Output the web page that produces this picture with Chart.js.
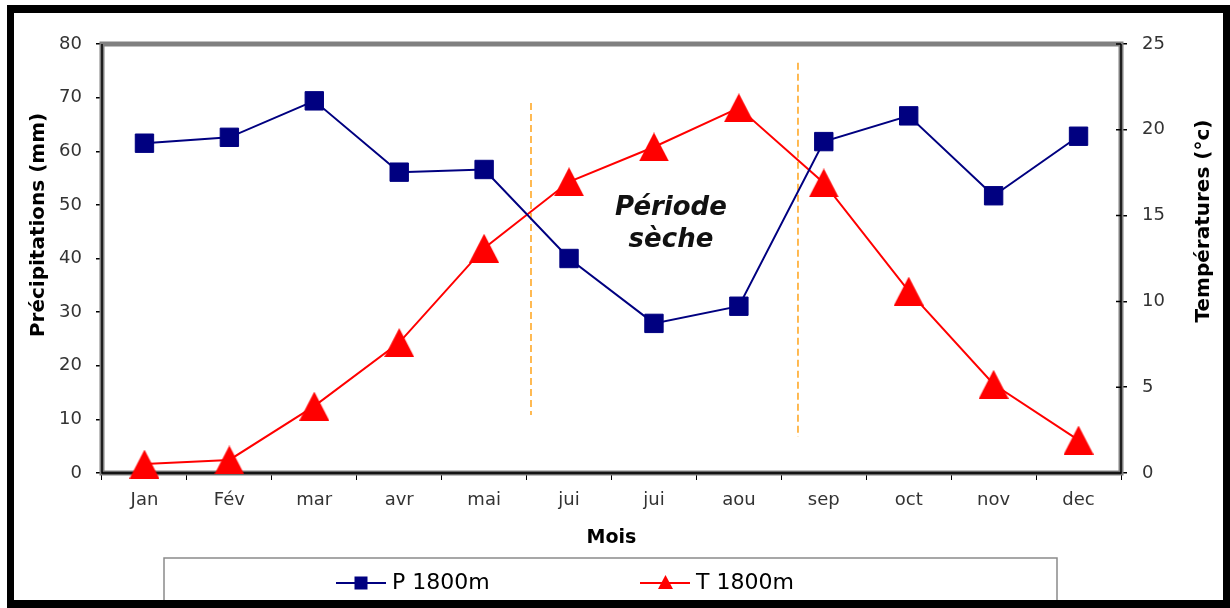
<!DOCTYPE html>
<html>
<head>
<meta charset="utf-8">
<script src="https://cdn.jsdelivr.net/npm/chart.js@4.4.0/dist/chart.umd.min.js"></script>
<style>
  html, body { margin: 0; padding: 0; background: #fff; }
  canvas { display: block; }
</style>
</head>
<body>
<canvas id="c" width="1230" height="608"></canvas>
<script>
// Monthly climate at 1800 m
const months = ['Jan', 'Fév', 'mar', 'avr', 'mai', 'jui', 'jui', 'aou', 'sep', 'oct', 'nov', 'dec'];
const precipitation = [61.5, 62.6, 69.4, 56.1, 56.6, 40.0, 27.9, 31.1, 61.8, 66.6, 51.7, 62.8];   // mm
const temperature = [0.52, 0.76, 3.9, 7.6, 13.1, 16.97, 19.0, 21.28, 16.9, 10.6, 5.17, 1.92];     // °C
const precipAxis = [0, 80, 10];   // min, max, step
const tempAxis = [0, 25, 5];
const seriesNames = ['P 1800m', 'T 1800m'];
const axisTitles = ['Mois', 'Précipitations (mm)', 'Températures (°c)'];
const dryLabel = ['Période', 'sèche'];

const NAVY = '#000080';
const RED = '#FF0000';
const FONT = '"DejaVu Sans", Verdana, sans-serif';

function triangleMarker(w, h, color) {
  const c = document.createElement('canvas');
  c.width = w; c.height = h;
  const g = c.getContext('2d');
  g.fillStyle = color;
  g.beginPath();
  g.moveTo(w / 2, 0);
  g.lineTo(w, h);
  g.lineTo(0, h);
  g.closePath();
  g.fill();
  return c;
}

const decor = {
  id: 'decor',
  beforeDraw(chart) {
    const { ctx, width, height } = chart;
    ctx.save();
    ctx.fillStyle = '#fff';
    ctx.fillRect(0, 0, width, height);
    ctx.restore();
  },
  beforeDatasetsDraw(chart, args, opts) {
    const { ctx, chartArea: a, scales } = chart;
    ctx.save();
    // plot frame
    ctx.strokeStyle = '#808080';
    ctx.lineWidth = 5;
    ctx.strokeRect(a.left, a.top, a.right - a.left, a.bottom - a.top);
    ctx.strokeStyle = '#555';
    ctx.lineWidth = 3;
    ctx.beginPath();
    ctx.moveTo(a.left, a.bottom); ctx.lineTo(a.right, a.bottom);
    ctx.stroke();
    ctx.strokeStyle = '#000';
    ctx.lineWidth = 1.5;
    ctx.beginPath();
    ctx.moveTo(a.left, a.top); ctx.lineTo(a.left, a.bottom);
    ctx.lineTo(a.right, a.bottom); ctx.lineTo(a.right, a.top);
    // inner half of the right-hand ticks
    const y1 = scales.y1;
    y1.ticks.forEach((t, i) => {
      const py = y1.getPixelForTick(i);
      ctx.moveTo(a.right - 5, py); ctx.lineTo(a.right, py);
    });
    ctx.stroke();
    // dry period limits
    ctx.strokeStyle = opts.lineColor;
    ctx.lineWidth = 1.5;
    ctx.setLineDash([7, 4]);
    ctx.beginPath();
    opts.limits.forEach(l => {
      const px = scales.x.getPixelForValue(l.x);
      ctx.moveTo(px, scales.y.getPixelForValue(l.to));
      ctx.lineTo(px, scales.y.getPixelForValue(l.from));
    });
    ctx.stroke();
    ctx.restore();
  },
  afterDatasetsDraw(chart, args, opts) {
    const { ctx, scales } = chart;
    ctx.save();
    ctx.font = 'italic bold 26px ' + FONT;
    ctx.fillStyle = '#111';
    ctx.textAlign = 'center';
    ctx.textBaseline = 'middle';
    const px = scales.x.getPixelForValue(opts.textAt.x);
    dryLabel.forEach((s, i) => {
      ctx.fillText(s, px, scales.y.getPixelForValue(opts.textAt.y[i]));
    });
    ctx.restore();
  },
  afterDraw(chart) {
    const { ctx, width, height, chartArea: a } = chart;
    ctx.save();
    // axis titles
    ctx.fillStyle = '#000';
    ctx.textAlign = 'center';
    ctx.textBaseline = 'middle';
    ctx.font = 'bold 19px ' + FONT;
    ctx.fillText(axisTitles[0], (a.left + a.right) / 2, 538);
    ctx.font = 'bold 20px ' + FONT;
    ctx.save();
    ctx.translate(39, 225);
    ctx.rotate(-Math.PI / 2);
    ctx.fillText(axisTitles[1], 0, 0);
    ctx.restore();
    ctx.save();
    ctx.translate(1204, 221);
    ctx.rotate(-Math.PI / 2);
    ctx.fillText(axisTitles[2], 0, 0);
    ctx.restore();

    // legend
    ctx.strokeStyle = '#8a8a8a';
    ctx.lineWidth = 1.5;
    ctx.strokeRect(164, 558, 893, 60);
    const ly = 583;
    ctx.lineWidth = 2;
    ctx.strokeStyle = NAVY;
    ctx.beginPath(); ctx.moveTo(336, ly); ctx.lineTo(386, ly); ctx.stroke();
    ctx.fillStyle = NAVY;
    ctx.fillRect(361 - 6.5, ly - 6.5, 13, 13);
    ctx.strokeStyle = RED;
    ctx.beginPath(); ctx.moveTo(640, ly); ctx.lineTo(690, ly); ctx.stroke();
    ctx.fillStyle = RED;
    ctx.beginPath();
    ctx.moveTo(665.5, ly - 8); ctx.lineTo(673, ly + 6); ctx.lineTo(658, ly + 6);
    ctx.closePath(); ctx.fill();
    ctx.fillStyle = '#000';
    ctx.font = '22px ' + FONT;
    ctx.textAlign = 'left';
    ctx.fillText(seriesNames[0], 392, ly);
    ctx.fillText(seriesNames[1], 696, ly);

    // outer black border
    ctx.fillStyle = '#000';
    ctx.fillRect(7, 5, width - 7, 8);
    ctx.fillRect(7, 5, 7, height - 5);
    ctx.fillRect(width - 7, 5, 7, height - 5);
    ctx.fillRect(7, height - 8, width - 7, 8);
    ctx.restore();
  }
};

const tickFont = { family: FONT, size: 18 };

new Chart(document.getElementById('c'), {
  type: 'line',
  data: {
    labels: months,
    datasets: [
      {
        label: seriesNames[0],
        data: precipitation,
        yAxisID: 'y',
        borderColor: NAVY,
        backgroundColor: NAVY,
        borderWidth: 2,
        pointStyle: 'rect',
        pointRadius: 13,
        pointBackgroundColor: NAVY,
        pointBorderColor: NAVY,
        pointBorderWidth: 1,
        tension: 0,
        clip: false
      },
      {
        label: seriesNames[1],
        data: temperature,
        yAxisID: 'y1',
        borderColor: RED,
        backgroundColor: RED,
        borderWidth: 2,
        pointStyle: triangleMarker(30, 29, RED),
        pointRadius: 15,
        tension: 0,
        clip: false
      }
    ]
  },
  options: {
    responsive: false,
    animation: false,
    devicePixelRatio: 1,
    events: [],
    layout: { padding: { top: 44, left: 0, right: 0, bottom: 0 } },
    plugins: {
      legend: { display: false },
      tooltip: { enabled: false },
      decor: {
        lineColor: '#FFA31A',
        limits: [ { x: 4.552, from: 10.8, to: 69.0 }, { x: 7.696, from: 6.7, to: 76.5 } ],
        textAt: { x: 6.2, y: [49.4, 43.4] }
      }
    },
    scales: {
      x: {
        type: 'category',
        offset: true,
        border: { display: false },
        grid: { offset: true, drawOnChartArea: false, drawTicks: true, tickLength: 7, color: '#000', lineWidth: 1 },
        ticks: { font: tickFont, color: '#333', padding: 10, maxRotation: 0, autoSkip: false },
        afterFit(s) { s.height = 135; }
      },
      y: {
        position: 'left',
        min: precipAxis[0], max: precipAxis[1],
        border: { display: false },
        grid: { drawOnChartArea: false, tickLength: 6, color: '#000', lineWidth: 1.5 },
        ticks: { stepSize: precipAxis[2], font: tickFont, color: '#333', padding: 14 },
        afterFit(s) { s.width = 102; }
      },
      y1: {
        position: 'right',
        min: tempAxis[0], max: tempAxis[1],
        border: { display: false },
        grid: { drawOnChartArea: false, tickLength: 6, color: '#000', lineWidth: 1.5 },
        ticks: { stepSize: tempAxis[2], font: tickFont, color: '#333', padding: 15 },
        afterFit(s) { s.width = 109; }
      }
    }
  },
  plugins: [decor]
});
</script>
</body>
</html>
